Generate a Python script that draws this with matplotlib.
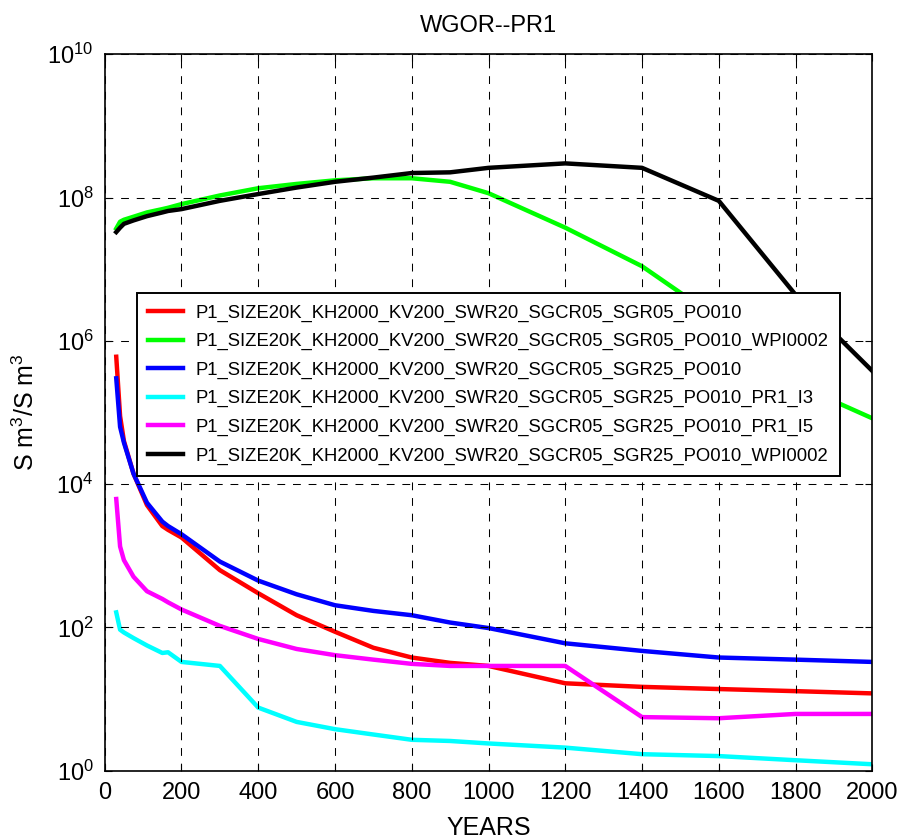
import matplotlib
matplotlib.use("Agg")
import matplotlib.pyplot as plt
from matplotlib.ticker import FixedLocator, NullLocator

FONT = ["Liberation Sans", "DejaVu Sans"]
plt.rcParams["font.family"] = FONT
plt.rcParams["mathtext.fontset"] = "custom"
plt.rcParams["mathtext.rm"] = "Liberation Sans"
plt.rcParams["mathtext.it"] = "Liberation Sans"
plt.rcParams["mathtext.bf"] = "Liberation Sans"

# Simulation output times (years)
years = [30, 40, 50, 75, 110, 150, 165, 200, 300, 400, 500, 600, 700,
         800, 900, 1000, 1200, 1400, 1600, 1800, 2000]

# Gas-oil ratio per case (Sm3/Sm3)
gor_sgr05 = [6.0e5, 8.9e4, 4.0e4, 1.4e4, 5.1e3, 2.6e3, 2.3e3, 1.8e3, 630, 300,
             148, 87, 52, 38, 32, 29, 16.6, 14.8, 13.8, 12.9, 12.0]
gor_sgr05_wpi = [3.7e7, 4.6e7, 4.9e7, 5.4e7, 6.2e7, 6.9e7, 7.2e7, 8.1e7, 1.07e8,
                 1.35e8, 1.55e8, 1.74e8, 1.86e8, 1.86e8, 1.66e8, 1.15e8, 3.8e7,
                 1.1e7, 2.0e6, 2.5e5, 8.3e4]
gor_sgr25 = [3.0e5, 6.3e4, 3.8e4, 1.4e4, 5.5e3, 3.0e3, 2.6e3, 2.0e3, 830, 450,
             290, 204, 170, 148, 117, 98, 60, 47, 38, 35.5, 33]
gor_sgr25_i3 = [162, 93, 85, 71, 56, 44, 45, 33, 29, 7.6, 4.8, 3.8, 3.2, 2.7,
                2.6, 2.4, 2.1, 1.7, 1.6, 1.4, 1.23]
gor_sgr25_i5 = [6.2e3, 1.35e3, 870, 510, 320, 250, 224, 178, 105, 69, 50, 41,
                35.5, 31, 29, 29, 29, 5.6, 5.4, 6.2, 6.2]
gor_sgr25_wpi = [3.3e7, 3.8e7, 4.3e7, 4.8e7, 5.5e7, 6.2e7, 6.5e7, 6.9e7, 9.0e7,
                 1.12e8, 1.38e8, 1.66e8, 1.9e8, 2.2e8, 2.25e8, 2.6e8, 3.0e8,
                 2.6e8, 9.0e7, 4.4e6, 3.8e5]

case_names = [
    "P1_SIZE20K_KH2000_KV200_SWR20_SGCR05_SGR05_PO010",
    "P1_SIZE20K_KH2000_KV200_SWR20_SGCR05_SGR05_PO010_WPI0002",
    "P1_SIZE20K_KH2000_KV200_SWR20_SGCR05_SGR25_PO010",
    "P1_SIZE20K_KH2000_KV200_SWR20_SGCR05_SGR25_PO010_PR1_I3",
    "P1_SIZE20K_KH2000_KV200_SWR20_SGCR05_SGR25_PO010_PR1_I5",
    "P1_SIZE20K_KH2000_KV200_SWR20_SGCR05_SGR25_PO010_WPI0002",
]
series = [gor_sgr05, gor_sgr05_wpi, gor_sgr25, gor_sgr25_i3, gor_sgr25_i5, gor_sgr25_wpi]
colors = ["#ff0000", "#00ff00", "#0000ff", "#00ffff", "#ff00ff", "#000000"]

x_ticks = [0, 200, 400, 600, 800, 1000, 1200, 1400, 1600, 1800, 2000]
y_ticks = [1e0, 1e2, 1e4, 1e6, 1e8, 1e10]

fig = plt.figure(figsize=(8.99, 8.39), dpi=100)
ax = fig.add_axes([0.1165, 0.0814, 0.8538, 0.8539])

for vals, col, name in zip(series, colors, case_names):
    ax.plot(years, vals, color=col, lw=3.2, label=name, solid_joinstyle="round")

ax.set_yscale("log")
ax.set_xlim(0, 2000)
ax.set_ylim(1e0, 1e10)
ax.xaxis.set_major_locator(FixedLocator(x_ticks))
ax.yaxis.set_major_locator(FixedLocator(y_ticks))
ax.yaxis.set_minor_locator(NullLocator())
ax.tick_params(axis="both", which="major", direction="in", length=5, width=0.8,
               top=True, right=True, labelsize=17, pad=8)
for s in ax.spines.values():
    s.set_linewidth(1.2)

ax.grid(True, which="major", color="black", linestyle=(0, (7.5, 7.5)), linewidth=0.75)
ax.set_axisbelow(False)

ax.set_title("WGOR--PR1", fontsize=17, pad=16)
ax.set_xlabel("YEARS", fontsize=18, labelpad=9)
ax.set_ylabel("S m$^{3}$/S m$^{3}$", fontsize=18, labelpad=6)

leg = ax.legend(loc="upper left", bbox_to_anchor=(0.0417, 0.6664), borderaxespad=0,
                fontsize=13.3, frameon=True, fancybox=False, framealpha=1,
                edgecolor="black", handlelength=1.9, handletextpad=0.7,
                labelspacing=0.62, borderpad=0.6)
leg.get_frame().set_linewidth(1.4)
for h in leg.get_lines():
    h.set_linewidth(3.2)

fig.savefig("out.png", dpi=100)
